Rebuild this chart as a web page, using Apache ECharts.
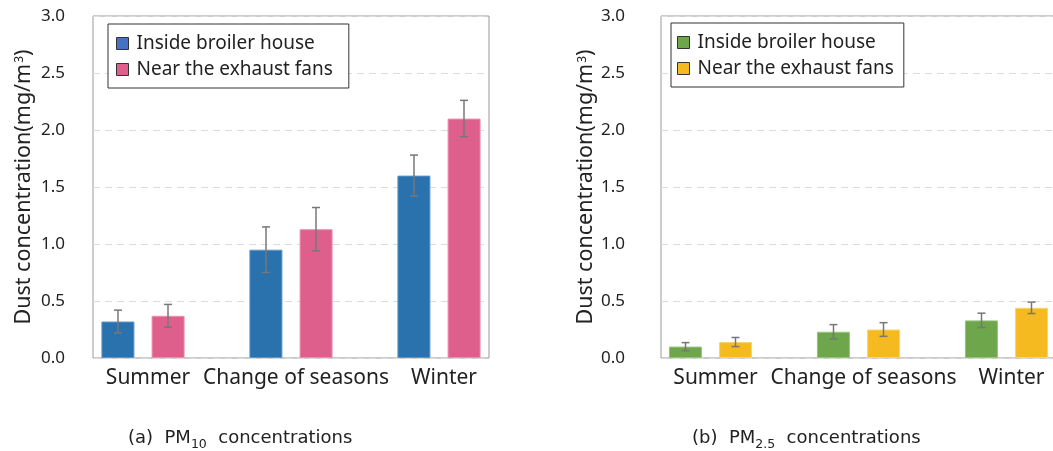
<!DOCTYPE html>
<html>
<head>
<meta charset="utf-8">
<script src="https://cdn.jsdelivr.net/npm/echarts@6/dist/echarts.min.js"></script>
<style>
html,body{margin:0;padding:0;background:#fff;}
#chart{width:1053px;height:451px;}
</style>
</head>
<body>
<div id="chart"></div>
<script>
const categories = ['Summer', 'Change of seasons', 'Winter'];
const seriesNames = ['Inside broiler house', 'Near the exhaust fans'];
const yTicks = { min: 0, max: 3, interval: 0.5 };

const pm10Inside = [0.32, 0.95, 1.60];
const pm10InsideErr = [0.10, 0.20, 0.18];
const pm10Exhaust = [0.37, 1.13, 2.10];
const pm10ExhaustErr = [0.10, 0.19, 0.16];

const pm25Inside = [0.10, 0.23, 0.33];
const pm25InsideErr = [0.035, 0.063, 0.063];
const pm25Exhaust = [0.14, 0.25, 0.44];
const pm25ExhaustErr = [0.04, 0.06, 0.05];

const FONT = 'Noto Sans';
const TXT = '#222';

function errSeries(xi, yi, vals, errs, off) {
  return {
    type: 'custom', xAxisIndex: xi, yAxisIndex: yi, z: 10,
    data: vals.map((v, i) => [i, v, errs[i]]),
    encode: { x: 0, y: 1 },
    renderItem: function (params, api) {
      const x = api.value(0), v = api.value(1), e = api.value(2);
      const t = api.coord([x, v + e]);
      const b = api.coord([x, v - e]);
      const cx = t[0] + off;
      const st = { stroke: '#777', lineWidth: 1.5 };
      return { type: 'group', children: [
        { type: 'line', shape: { x1: cx, y1: t[1], x2: cx, y2: b[1] }, style: st },
        { type: 'line', shape: { x1: cx - 4, y1: t[1], x2: cx + 4, y2: t[1] }, style: st },
        { type: 'line', shape: { x1: cx - 4, y1: b[1], x2: cx + 4, y2: b[1] }, style: st }
      ]};
    }
  };
}

function barSeries(name, xi, yi, vals, color, border) {
  return {
    name: name, type: 'bar', xAxisIndex: xi, yAxisIndex: yi,
    data: vals, barWidth: 33, barGap: '52%',
    itemStyle: { color: color, borderColor: border, borderWidth: 1 }
  };
}

function frameY(gi, labelMargin, nameGap) {
  return {
    type: 'value', gridIndex: gi, min: yTicks.min, max: yTicks.max, interval: yTicks.interval,
    axisLine: { show: false }, axisTick: { show: false },
    axisLabel: { margin: labelMargin, fontSize: 17, color: TXT, fontFamily: FONT,
      formatter: v => v.toFixed(1) },
    splitLine: { show: true, lineStyle: { color: '#dcdcdc', type: [7, 5], width: 1 } },
    name: '{a|Dust concentration(mg/m}{s|3}{a|)}',
    nameLocation: 'middle', nameGap: nameGap,
    nameTextStyle: { rich: {
      a: { fontSize: 21.5, color: TXT, fontFamily: FONT, lineHeight: 26, verticalAlign: 'bottom' },
      s: { fontSize: 12, color: TXT, fontFamily: FONT, lineHeight: 24, verticalAlign: 'bottom', padding: [0, 0, 9, 1] }
    } }
  };
}
function hiddenY(gi) {
  return { type: 'value', gridIndex: gi, min: yTicks.min, max: yTicks.max, show: false, splitLine: { show: false } };
}
function catX(gi) {
  return {
    type: 'category', gridIndex: gi, data: categories,
    axisLine: { show: false }, axisTick: { show: false },
    axisLabel: { margin: 10, fontSize: 21, color: TXT, fontFamily: FONT, interval: 0, padding: [0, 0, 0, 10] }
  };
}
function hiddenX(gi) {
  return { type: 'value', gridIndex: gi, min: 0, max: 1, show: false };
}
function legend(left, top, pad, c1, c2) {
  return {
    left: left, top: top, orient: 'vertical',
    backgroundColor: '#fff', borderColor: '#333', borderWidth: 1,
    padding: pad, itemGap: 7, itemWidth: 12, itemHeight: 12,
    icon: 'rect',
    textStyle: { fontSize: 19, color: TXT, fontFamily: FONT, padding: [0, 0, 0, 3] },
    data: [
      { name: seriesNames[0], itemStyle: { color: c1, borderColor: '#333', borderWidth: 1 } },
      { name: seriesNames[1], itemStyle: { color: c2, borderColor: '#333', borderWidth: 1 } }
    ],
    selectedMode: false
  };
}

const capRich = {
  a: { fontSize: 18, color: TXT, fontFamily: 'DejaVu Sans', fontWeight: 'normal' },
  s: { fontSize: 12.5, color: TXT, fontFamily: 'DejaVu Sans', fontWeight: 'normal', verticalAlign: 'bottom', padding: [0, 0, -4, 0] }
};

const option = {
  animation: false,
  backgroundColor: '#fff',
  title: [
    { text: '{a|(a)  PM}{s|10}{a|  concentrations}', left: 128, top: 429, padding: 0, textStyle: { rich: capRich } },
    { text: '{a|(b)  PM}{s|2.5}{a|  concentrations}', left: 692, top: 429, padding: 0, textStyle: { rich: capRich } }
  ],
  legend: [legend(108, 24, [10, 16, 9, 8], '#4472C4', '#DE5F8B'), legend(671, 23, [10, 10, 9, 6], '#6DA64B', '#F5BA20')],
  grid: [
    { left: 93, top: 16, width: 396, height: 342, show: true, borderColor: '#999', borderWidth: 1, backgroundColor: 'transparent', outerBoundsMode: 'none' },
    { left: 69, top: 16, width: 444, height: 342, outerBoundsMode: 'none' },
    { left: 661, top: 16, width: 410, height: 342, show: true, borderColor: '#999', borderWidth: 1, backgroundColor: 'transparent', outerBoundsMode: 'none' },
    { left: 636.5, top: 16, width: 444, height: 342, outerBoundsMode: 'none' }
  ],
  xAxis: [hiddenX(0), catX(1), hiddenX(2), catX(3)],
  yAxis: [frameY(0, 28, 58), hiddenY(1), frameY(2, 36, 63), hiddenY(3)],
  series: [
    barSeries(seriesNames[0], 1, 1, pm10Inside, '#2A72AE', '#5A95C8'),
    barSeries(seriesNames[1], 1, 1, pm10Exhaust, '#DE5F8B', '#EC8FAE'),
    errSeries(1, 1, pm10Inside, pm10InsideErr, -25),
    errSeries(1, 1, pm10Exhaust, pm10ExhaustErr, 25),
    barSeries(seriesNames[0], 3, 3, pm25Inside, '#6DA64B', '#97C27D'),
    barSeries(seriesNames[1], 3, 3, pm25Exhaust, '#F5BA20', '#F9D36E'),
    errSeries(3, 3, pm25Inside, pm25InsideErr, -25),
    errSeries(3, 3, pm25Exhaust, pm25ExhaustErr, 25)
  ]
};

const chart = echarts.init(document.getElementById('chart'), null, { renderer: 'canvas' });
chart.setOption(option);
</script>
</body>
</html>
